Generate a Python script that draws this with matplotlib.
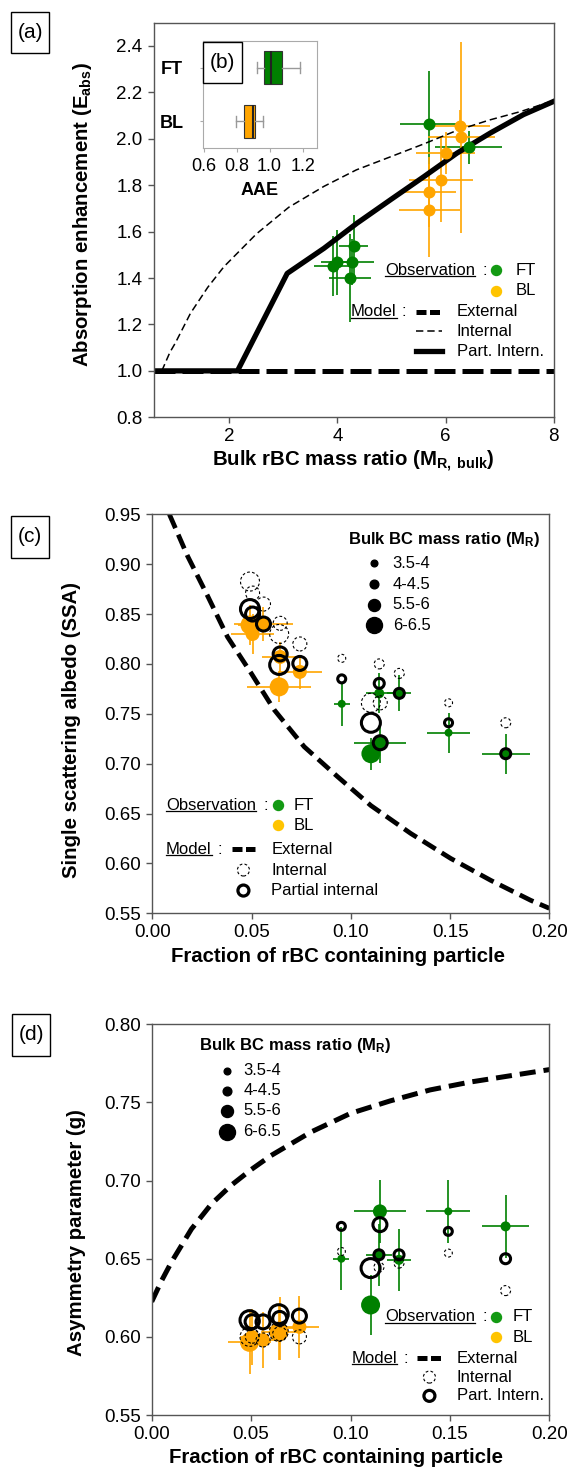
import matplotlib
matplotlib.use('Agg')
import matplotlib.pyplot as plt
from matplotlib.patches import Rectangle
from matplotlib.lines import Line2D

plt.rcParams['font.family'] = 'Liberation Sans'
plt.rcParams['mathtext.fontset'] = 'custom'
plt.rcParams['mathtext.rm'] = 'Liberation Sans'
plt.rcParams['mathtext.bf'] = 'Liberation Sans:bold'
plt.rcParams['mathtext.it'] = 'Liberation Sans:italic'

# ---------------- data, panel (a) ----------------
ft_mr = [5.70, 6.43, 3.91, 3.99, 4.30, 4.27, 4.23]
ft_eabs = [2.062, 1.963, 1.452, 1.469, 1.540, 1.469, 1.399]
ft_mr_err = [0.55, 0.62, 0.35, 0.30, 0.27, 0.40, 0.39]
ft_eabs_err = [0.23, 0.07, 0.13, 0.14, 0.13, 0.10, 0.19]

bl_mr = [6.26, 6.29, 6.00, 5.92, 5.69, 5.70]
bl_eabs = [2.053, 2.006, 1.938, 1.823, 1.770, 1.691]
bl_mr_err = [0.57, 0.62, 0.55, 0.59, 0.51, 0.57]
bl_eabs_err = [0.07, 0.41, 0.09, 0.18, 0.15, 0.20]

ext_mr = [0.6, 8.0]
ext_eabs = [1.0, 1.0]
int_mr = [0.75, 0.9, 1.0, 1.28, 1.6, 1.9, 2.5, 3.1, 3.75, 4.35, 5.0, 5.6, 6.2, 6.8, 7.4, 8.0]
int_eabs = [1.0, 1.08, 1.12, 1.248, 1.36, 1.449, 1.59, 1.705, 1.795, 1.866, 1.924,
            1.978, 2.035, 2.08, 2.118, 2.165]
part_mr = [0.6, 2.15, 3.07, 3.75, 4.36, 4.98, 5.60, 6.21, 6.83, 7.44, 8.0]
part_eabs = [1.0, 1.0, 1.42, 1.528, 1.636, 1.737, 1.837, 1.938, 2.025, 2.104, 2.161]

# ---------------- data, panel (b) inset ----------------
aae_groups = ['FT', 'BL']
aae_q1 = [0.966, 0.842]
aae_med = [1.009, 0.902]
aae_q3 = [1.073, 0.914]
aae_lo = [0.926, 0.797]
aae_hi = [1.184, 0.962]

# ---------------- data, panels (c) and (d) ----------------
mr_classes = ['3.5-4', '4-4.5', '5.5-6', '6-6.5']

ft_frac = [0.0954, 0.1143, 0.1244, 0.1101, 0.1148, 0.1492, 0.1780]
ft_frac_err = [0.004, 0.0067, 0.006, 0.003, 0.013, 0.011, 0.012]
ft_class = [0, 1, 1, 3, 2, 0, 1]
bl_frac = [0.0492, 0.0505, 0.0560, 0.0644, 0.0639, 0.0743]
bl_frac_err = [0.006, 0.011, 0.015, 0.009, 0.016, 0.011]
bl_class = [3, 2, 2, 2, 3, 2]

ft_ssa = [0.760, 0.7705, 0.7705, 0.710, 0.721, 0.731, 0.710]
ft_ssa_err = [0.022, 0.02, 0.018, 0.016, 0.02, 0.02, 0.02]
ft_ssa_part = [0.785, 0.7805, 0.7705, 0.741, 0.721, 0.741, 0.710]
ft_ssa_int = [0.8056, 0.800, 0.7905, 0.761, 0.761, 0.761, 0.741]
bl_ssa = [0.839, 0.830, 0.840, 0.807, 0.777, 0.792]
bl_ssa_err = [0.02, 0.02, 0.0175, 0.015, 0.015, 0.017]
bl_ssa_part = [0.855, 0.850, 0.840, 0.810, 0.799, 0.8005]
bl_ssa_int = [0.8826, 0.871, 0.860, 0.8407, 0.830, 0.820]
ssa_ext_frac = [0.0086, 0.0178, 0.0279, 0.0379, 0.0497, 0.0614, 0.0765, 0.0933,
                0.1101, 0.1302, 0.1503, 0.1705, 0.1906, 0.2]
ssa_ext = [0.95, 0.908, 0.868, 0.827, 0.791, 0.754, 0.717, 0.687, 0.658, 0.630,
           0.605, 0.583, 0.563, 0.555]

ft_g = [0.650, 0.6525, 0.6493, 0.6204, 0.6803, 0.6803, 0.6707]
ft_g_err = [0.02, 0.02, 0.02, 0.019, 0.02, 0.02, 0.02]
ft_g_part = [0.6707, 0.6525, 0.6525, 0.644, 0.6718, 0.6675, 0.650]
ft_g_int = [0.6546, 0.6446, 0.6472, 0.644, 0.6718, 0.6536, 0.6296]
bl_g = [0.5965, 0.600, 0.598, 0.6054, 0.603, 0.6064]
bl_g_err = [0.02, 0.018, 0.018, 0.02, 0.018, 0.02]
bl_g_part = [0.6107, 0.6097, 0.6096, 0.6118, 0.6145, 0.6133]
bl_g_int = [0.600, 0.6004, 0.598, 0.602, 0.6032, 0.600]
bl_g_frac_err = [0.011, 0.006, 0.006, 0.008, 0.009, 0.010]
g_ext_frac = [0.0, 0.005, 0.01, 0.02, 0.03, 0.04, 0.05, 0.06, 0.08, 0.10, 0.12,
              0.14, 0.16, 0.18, 0.20]
g_ext = [0.6225, 0.636, 0.648, 0.669, 0.685, 0.697, 0.707, 0.716, 0.731, 0.743,
         0.751, 0.758, 0.763, 0.767, 0.771]

# ---------------- style ----------------
W, H = 571, 1468
GREEN = 'green'
ORANGE = '#FFA500'
LEG_GREEN = '#139a13'
LEG_ORANGE = '#FFC400'
SPINE = '#555555'
DATA_D = [8, 10, 14, 19]      # marker diameters (px) per mass-ratio class
LEG_D = [6.7, 8.7, 12, 16]
LABEL_FS = 14.7
TICK_FS = 13.5


def pt2(d_px):
    return (d_px * 0.72) ** 2


def box(l, t, r, b):
    return [l / W, 1 - b / H, (r - l) / W, (b - t) / H]


def style_axes(ax):
    for sp in ax.spines.values():
        sp.set_color(SPINE)
        sp.set_linewidth(1)
    ax.tick_params(direction='out', length=4, width=1, color=SPINE,
                   labelsize=TICK_FS, pad=4)


def set_labels(ax, xl, yl, xpos, ypos):
    ax.set_xlabel(xl, fontsize=LABEL_FS, fontweight='bold')
    ax.set_ylabel(yl, fontsize=LABEL_FS, fontweight='bold')
    ax.xaxis.label.set_verticalalignment('baseline')
    ax.xaxis.set_label_coords(*xpos)
    ax.yaxis.set_label_coords(*ypos)


def label_box(fig, x0, y0, x1, y1, s):
    fig.add_artist(Rectangle((x0 / W, 1 - y1 / H), (x1 - x0) / W, (y1 - y0) / H,
                             transform=fig.transFigure, fc='white', ec='k',
                             lw=1, zorder=10))
    fig.text((x0 + x1) / 2 / W, 1 - (y0 + y1) / 2 / H, s, ha='center',
             va='center', fontsize=15, zorder=11)


def underlined(ax, x, y, s, size=12):
    t = ax.text(x, y, s, transform=ax.transAxes, fontsize=size,
                va='center', ha='left')
    r = ax.figure.canvas.get_renderer()
    bb = t.get_window_extent(renderer=r)
    inv = ax.transAxes.inverted()
    (xa, ya), (xb, _) = inv.transform([(bb.x0, bb.y0 + 1.5), (bb.x1, bb.y0)])
    ax.add_line(Line2D([xa, xb], [ya, ya], transform=ax.transAxes, color='k',
                       lw=0.9, clip_on=False))


def txt(ax, x, y, s, size=12, **kw):
    ax.text(x, y, s, transform=ax.transAxes, fontsize=size,
            va='center', ha='left', **kw)


def obs_model_legend(ax, xo, yo, colon_x, dot_x, lab_x, xm, ym, colon_m,
                     samp, lab_m, names, line_rows, dy_o, dy_m):
    underlined(ax, xo, yo, 'Observation')
    txt(ax, colon_x, yo, ':')
    for i, (c, n) in enumerate([(LEG_GREEN, 'FT'), (LEG_ORANGE, 'BL')]):
        ax.scatter([dot_x], [yo - i * dy_o], s=pt2(10), color=c,
                   transform=ax.transAxes, clip_on=False, zorder=6)
        txt(ax, lab_x, yo - i * dy_o, n)
    underlined(ax, xm, ym, 'Model')
    txt(ax, colon_m, ym, ':')
    for i, n in enumerate(names):
        yy = ym - i * dy_m
        txt(ax, lab_m, yy, n)
        kind = line_rows[i]
        if kind == 'ext':
            ax.add_line(Line2D(samp, [yy, yy], transform=ax.transAxes, color='k',
                               lw=3.6, ls=(0, (2.0, 0.7)), dash_capstyle='butt'))
        elif kind == 'int_line':
            ax.add_line(Line2D(samp, [yy, yy], transform=ax.transAxes, color='k',
                               lw=1.1, ls=(0, (4.8, 2.6))))
        elif kind == 'part_line':
            ax.add_line(Line2D(samp, [yy, yy], transform=ax.transAxes, color='k',
                               lw=3.8))
        elif kind == 'int_ring':
            ax.scatter([sum(samp) / 2], [yy], s=pt2(12), facecolors='none',
                       edgecolors='k', linewidths=0.8, linestyles=(0, (2.5, 2)),
                       transform=ax.transAxes, clip_on=False)
        elif kind == 'part_ring':
            ax.scatter([sum(samp) / 2], [yy], s=pt2(11), facecolors='none',
                       edgecolors='k', linewidths=2.3,
                       transform=ax.transAxes, clip_on=False)


def size_legend(ax, tx, ty, dot_x, lab_x, rows):
    ax.text(tx, ty, 'Bulk BC mass ratio (M$_{\\mathregular{R}}$)',
            transform=ax.transAxes, fontsize=12,
            fontweight='bold', va='center', ha='left')
    for i, yy in enumerate(rows):
        ax.scatter([dot_x], [yy], s=pt2(LEG_D[i]), color='k',
                   transform=ax.transAxes, clip_on=False)
        txt(ax, lab_x, yy, mr_classes[i])


def scatter_panel(ax, ft_y, ft_yerr, ft_part, ft_int, bl_y, bl_yerr, bl_part,
                  bl_int, bl_xerr):
    ax.errorbar(ft_frac, ft_y, xerr=ft_frac_err, yerr=ft_yerr, fmt='none',
                ecolor=GREEN, elinewidth=1.2, zorder=2)
    ax.errorbar(bl_frac, bl_y, xerr=bl_xerr, yerr=bl_yerr, fmt='none',
                ecolor=ORANGE, elinewidth=1.2, zorder=2)
    ft_s = [pt2(DATA_D[c]) for c in ft_class]
    bl_s = [pt2(DATA_D[c]) for c in bl_class]
    ax.scatter(ft_frac, ft_y, s=ft_s, color=GREEN, zorder=3, lw=0)
    ax.scatter(bl_frac, bl_y, s=bl_s, color=ORANGE, zorder=3, lw=0)
    for xs, ys, ss in [(ft_frac, ft_int, ft_s), (bl_frac, bl_int, bl_s)]:
        ax.scatter(xs, ys, s=ss, facecolors='none', edgecolors='k',
                   linewidths=0.8, linestyles=(0, (2.5, 2)), zorder=4)
    for xs, ys, ss in [(ft_frac, ft_part, ft_s), (bl_frac, bl_part, bl_s)]:
        ax.scatter(xs, ys, s=ss, facecolors='none', edgecolors='k',
                   linewidths=2.2, zorder=5)


fig = plt.figure(figsize=(W / 100, H / 100), dpi=100)
fig.canvas.draw()

# ================= panel (a) =================
ax_a = fig.add_axes(box(153.7, 22.7, 553.7, 417.3))
style_axes(ax_a)
ax_a.errorbar(ft_mr, ft_eabs, xerr=ft_mr_err, yerr=ft_eabs_err, fmt='none',
              ecolor=GREEN, elinewidth=1.2, zorder=2)
ax_a.errorbar(bl_mr, bl_eabs, xerr=bl_mr_err, yerr=bl_eabs_err, fmt='none',
              ecolor=ORANGE, elinewidth=1.2, zorder=2)
ax_a.plot(ext_mr, ext_eabs, color='k', lw=3.6, ls=(0, (4.2, 1.4)),
          dash_capstyle='butt', zorder=2.5)
ax_a.plot(int_mr, int_eabs, color='k', lw=1.1, ls=(0, (4.8, 2.6)), zorder=2.5)
ax_a.plot(part_mr, part_eabs, color='k', lw=3.8, zorder=2.5)
ax_a.scatter(ft_mr, ft_eabs, s=pt2(12), color=GREEN, zorder=3, lw=0)
ax_a.scatter(bl_mr, bl_eabs, s=pt2(12), color=ORANGE, zorder=3, lw=0)
ax_a.set_xlim(0.6, 8.0)
ax_a.set_ylim(0.8, 2.5)
ax_a.set_xticks([2, 4, 6, 8])
ax_a.set_yticks([0.8, 1.0, 1.2, 1.4, 1.6, 1.8, 2.0, 2.2, 2.4])
ax_a.set_yticklabels(['%.1f' % v for v in ax_a.get_yticks()])
set_labels(ax_a, 'Bulk rBC mass ratio (M$_{\\mathbf{R,\\ bulk}}$)',
           'Absorption enhancement (E$_{\\mathbf{abs}}$)',
           (0.5, -0.124), (-0.150, 0.513))

obs_model_legend(ax_a, 0.578, 0.373, 0.8225, 0.856, 0.906, 0.493, 0.268, 0.62,
                 [0.656, 0.72], 0.7575, ['External', 'Internal', 'Part. Intern.'],
                 ['ext', 'int_line', 'part_line'], 0.052, 0.05)

# ================= panel (b) inset =================
ax_b = fig.add_axes(box(202.7, 40.7, 316.7, 148.3))
stats = [dict(med=aae_med[i], q1=aae_q1[i], q3=aae_q3[i], whislo=aae_lo[i],
              whishi=aae_hi[i], fliers=[], label=aae_groups[i])
         for i in range(len(aae_groups))]
bkw = dict(positions=[0, 1], widths=0.6, patch_artist=True, showfliers=False,
           capwidths=0.2, boxprops=dict(edgecolor='#333333', lw=0.8),
           medianprops=dict(color='#222222', lw=1.5),
           whiskerprops=dict(color='#999999', lw=1),
           capprops=dict(color='#999999', lw=1))
try:
    bp = ax_b.bxp(stats, orientation='horizontal', **bkw)
except TypeError:
    bp = ax_b.bxp(stats, vert=False, **bkw)
for patch, c in zip(bp['boxes'], [GREEN, ORANGE]):
    patch.set_facecolor(c)
ax_b.set_ylim(1.5, -0.5)
ax_b.set_xlim(0.595, 1.285)
ax_b.set_xticks([0.6, 0.8, 1.0, 1.2])
ax_b.set_xticklabels(['0.6', '0.8', '1.0', '1.2'])
for sp in ax_b.spines.values():
    sp.set_color('#aaaaaa')
ax_b.tick_params(axis='x', length=3, color='#aaaaaa', labelsize=13, pad=4)
ax_b.tick_params(axis='y', length=2, color='#aaaaaa', pad=12)
for t in ax_b.get_yticklabels():
    t.set_fontweight('bold')
    t.set_fontsize(13)
ax_b.set_xlabel('AAE', fontsize=13, fontweight='bold', labelpad=5)

# ================= panel (c) =================
ax_c = fig.add_axes(box(152.3, 514.3, 549.4, 913.3))
style_axes(ax_c)
ax_c.plot(ssa_ext_frac, ssa_ext, color='k', lw=3.4, ls=(0, (3.2, 1.5)),
          dash_capstyle='butt', zorder=1.5)
scatter_panel(ax_c, ft_ssa, ft_ssa_err, ft_ssa_part, ft_ssa_int, bl_ssa,
              bl_ssa_err, bl_ssa_part, bl_ssa_int, bl_frac_err)
ax_c.set_xlim(0, 0.2)
ax_c.set_ylim(0.55, 0.95)
ax_c.set_xticks([0, 0.05, 0.10, 0.15, 0.20])
ax_c.set_xticklabels(['%.2f' % v for v in ax_c.get_xticks()])
ax_c.set_yticks([0.55, 0.60, 0.65, 0.70, 0.75, 0.80, 0.85, 0.90, 0.95])
ax_c.set_yticklabels(['%.2f' % v for v in ax_c.get_yticks()])
set_labels(ax_c, 'Fraction of rBC containing particle',
           'Single scattering albedo (SSA)', (0.468, -0.121), (-0.18, 0.459))
size_legend(ax_c, 0.4936, 0.937, 0.5583, 0.6054, [0.877, 0.825, 0.773, 0.722])
obs_model_legend(ax_c, 0.0345, 0.271, 0.279, 0.317, 0.355, 0.0345, 0.160, 0.165,
                 [0.2, 0.259], 0.30, ['External', 'Internal', 'Partial internal'],
                 ['ext', 'int_ring', 'part_ring'], 0.05, 0.0515)

# ================= panel (d) =================
ax_d = fig.add_axes(box(151.7, 1024.3, 549.3, 1415))
style_axes(ax_d)
ax_d.plot(g_ext_frac, g_ext, color='k', lw=3.6, ls=(0, (3.2, 1.6)),
          dash_capstyle='butt', zorder=1.5)
scatter_panel(ax_d, ft_g, ft_g_err, ft_g_part, ft_g_int, bl_g, bl_g_err,
              bl_g_part, bl_g_int, bl_g_frac_err)
ax_d.set_xlim(0, 0.2)
ax_d.set_ylim(0.55, 0.80)
ax_d.set_xticks([0, 0.05, 0.10, 0.15, 0.20])
ax_d.set_xticklabels(['%.2f' % v for v in ax_d.get_xticks()])
ax_d.set_yticks([0.55, 0.60, 0.65, 0.70, 0.75, 0.80])
ax_d.set_yticklabels(['%.2f' % v for v in ax_d.get_yticks()])
set_labels(ax_d, 'Fraction of rBC containing particle',
           'Asymmetry parameter (g)', (0.464, -0.123), (-0.165, 0.467))
size_legend(ax_d, 0.1197, 0.9445, 0.190, 0.2304, [0.8805, 0.8293, 0.7789, 0.7251])
obs_model_legend(ax_d, 0.587, 0.2516, 0.8325, 0.866, 0.908, 0.503, 0.145, 0.633,
                 [0.668, 0.729], 0.767, ['External', 'Internal', 'Part. Intern.'],
                 ['ext', 'int_ring', 'part_ring'], 0.0527, 0.048)

# panel labels
label_box(fig, 10.9, 11.7, 49.2, 53.3, '(a)')
label_box(fig, 202.7, 41.7, 241.7, 83.3, '(b)')
label_box(fig, 10.9, 516, 49.2, 558, '(c)')
label_box(fig, 12, 1014, 50, 1056, '(d)')

fig.savefig('out.png', dpi=100)
